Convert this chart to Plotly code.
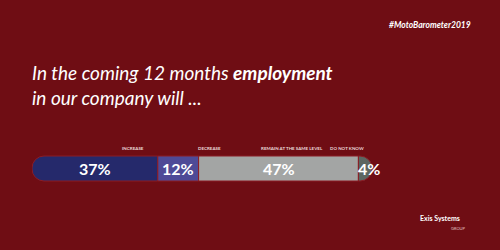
import plotly.graph_objects as go

categories = ["INCREASE", "DECREASE", "REMAIN AT THE SAME LEVEL", "DO NOT KNOW"]
values = [37, 12, 47, 4]
colors = ["#25296b", "#4e4a97", "#a3a5a4", "#5c6662"]
label_px = [120, 209, 292, 366]  # label centre positions (pixels)

BG = "#6f0d14"
fig = go.Figure()

# Increase drawn to the left of zero, rest stacked to the right (so both ends round)
sign = [-1, 1, 1, 1]
for c, v, col, s in zip(categories, values, colors, sign):
    fig.add_trace(go.Bar(
        y=[0], x=[s * v], orientation="h", name=c,
        marker=dict(color=col, line=dict(color="#8c1c24", width=1)),
        width=1, hoverinfo="skip", showlegend=False,
    ))

# Percent labels at segment centres
left = -values[0]
pos = left
for i, v in enumerate(values):
    mid = pos + v / 2
    if i == len(values) - 1:
        mid = pos + v / 2 + 1.0
    fig.add_annotation(x=mid, y=0, xref="x", yref="y", text=f"<b>{v}%</b>",
                       showarrow=False, font=dict(family="Lato", size=16, color="white"))
    pos += v

for c, px in zip(categories, label_px):
    fig.add_annotation(x=px / 500, y=1 - 148 / 250, xref="paper", yref="paper", text=f"<b>{c}</b>",
                       showarrow=False, font=dict(family="Lato", size=4.5, color="#ead8d8"))

fig.add_annotation(x=30 / 500, y=1 - 59 / 250, xref="paper", yref="paper", xanchor="left", yanchor="top",
                   align="left",
                   text="<i>In the coming 12 months <b>employment</b><br>in our company will ...</i>",
                   showarrow=False, font=dict(family="Lato", size=19, color="white"))

fig.add_annotation(x=473 / 500, y=1 - 18 / 250, xref="paper", yref="paper", xanchor="right",
                   text="<i><b>#MotoBarometer2019</b></i>", showarrow=False,
                   font=dict(family="Lato", size=8.5, color="white"))

fig.add_annotation(x=462 / 500, y=1 - 224 / 250, xref="paper", yref="paper",
                   text="<b>Exis Systems</b>", showarrow=False,
                   font=dict(family="Lato", size=7, color="white"))
fig.add_annotation(x=468 / 500, y=1 - 233 / 250, xref="paper", yref="paper",
                   text="GROUP", showarrow=False,
                   font=dict(family="Lato", size=4, color="#e0c0c0"))

fig.update_layout(
    width=500, height=250, margin=dict(l=0, r=0, t=0, b=0),
    paper_bgcolor=BG, plot_bgcolor=BG,
    barmode="relative", barcornerradius=12,
    xaxis=dict(domain=[32 / 500, 372 / 500], range=[-values[0], sum(values) - values[0]],
               visible=False, fixedrange=True),
    yaxis=dict(domain=[0, 1], range=[-81.5 / 25, 168.5 / 25], visible=False),
)
fig.write_html("out.html")
